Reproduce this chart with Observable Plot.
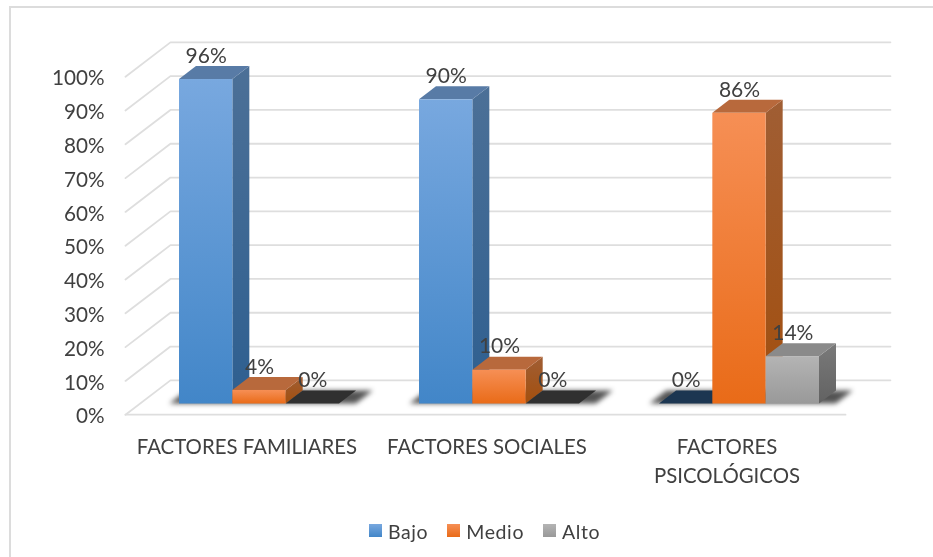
<!DOCTYPE html>
<html lang="es">
<head>
<meta charset="utf-8">
<script src="https://cdn.jsdelivr.net/npm/d3@7"></script>
<script src="https://cdn.jsdelivr.net/npm/@observablehq/plot@0.6"></script>
<style>
  html, body { margin: 0; background: #fff; width: 933px; height: 557px; overflow: hidden; }
  #frame { position: absolute; left: 9px; top: 6px; width: 940px; height: 580px;
           border-left: 2px solid #dcdcdc; border-top: 2px solid #dcdcdc; }
  #chart { position: absolute; left: 0; top: 0; }
  #chart svg { display: block; filter: blur(0.5px); }
  .base-shadow { filter: blur(2.6px); }
  #legend { position: absolute; left: 369px; top: 514px; height: 34px; display: flex; align-items: center;
            font: 19.5px Lato, sans-serif; letter-spacing: 0.6px; color: #404040; filter: blur(0.4px); }
  #legend span.sw { display: inline-block; width: 13px; height: 13px; margin-right: 6px; position: relative; top: -1px; }
  #legend span.it { display: flex; align-items: center; margin-right: 19px; }
</style>
</head>
<body>
<div id="frame"></div>
<div id="chart"></div>
<div id="legend"></div>
<script>
const categories = ["FACTORES FAMILIARES", "FACTORES SOCIALES", "FACTORES\nPSICOLÓGICOS"];
const seriesNames = ["Bajo", "Medio", "Alto"];
const bajo = [96, 90, 0];
const medio = [4, 10, 86];
const alto = [0, 0, 14];
const seriesValues = [bajo, medio, alto];
const yTicks = [0, 10, 20, 30, 40, 50, 60, 70, 80, 90, 100];

// Three-dimensional look of the chart, in data units:
// one unit of depth moves a point right (in category slots) and up (in percent).
const depthX = 17 / 240, depthY = 13 / 3.38;
const wallFront = -0.824, wallBack = 1.82;
const barWidth = 1 / 4.5, barOffset = 0.75 / 4.5;

const palette = [
  {front: ["#78a8df", "#4286c8"], side: ["#4c7097", "#2e5f90"], top: "#587ba6", flat: "#1c3651"},
  {front: ["#f68f55", "#e96b18"], side: ["#a05e34", "#a34f0e"], top: "#b8693c", flat: "#b8693c"},
  {front: ["#b4b4b4", "#999999"], side: ["#7a7a7a", "#626262"], top: "#8a8a8a", flat: "#303030"}
];

const bars = seriesValues.flatMap((vals, s) => vals.map((v, c) => ({
  s, c, v, key: `${s}-${c}`,
  x1: c + barOffset + s * barWidth,
  x2: c + barOffset + (s + 1) * barWidth
})));
const along = bars.flatMap(b => [0, 1].map(d => ({...b, d})));

const px = (x, d) => x + d * depthX;
const py = (v, d) => v + d * depthY;

const gridPts = yTicks.flatMap(t => [
  {t, x: px(0, wallFront), y: py(t, wallFront)},
  {t, x: px(0, wallBack), y: py(t, wallBack)},
  {t, x: px(3, wallBack), y: py(t, wallBack)}
]);
const floorFront = [
  {x: px(0, wallFront), y: py(0, wallFront)},
  {x: px(3, wallFront), y: py(0, wallFront)}
];
const groupShadow = categories.flatMap((_, c) => [0, 1].map(d => ({
  c, y: py(0, d),
  x1: px(c + barOffset - 0.04, d),
  x2: px(c + barOffset + 3 * barWidth + 0.07, d)
})));

const gradient = (id, [a, b]) =>
  `<linearGradient id="${id}" x1="0" y1="0" x2="0" y2="1"><stop offset="0" stop-color="${a}"/><stop offset="1" stop-color="${b}"/></linearGradient>`;

function defsMark() {
  const defs = document.createElementNS("http://www.w3.org/2000/svg", "defs");
  defs.innerHTML = palette.map((p, i) => gradient(`front${i}`, p.front) + gradient(`side${i}`, p.side)).join("");
  return defs;
}

const barMarks = seriesNames.flatMap((_, s) => {
  const rows = bars.filter(b => b.s === s && b.v > 0);
  const alongRows = along.filter(b => b.s === s);
  const alongVisible = alongRows.filter(b => b.v > 0);
  return [
    Plot.areaY(alongVisible, {
      x: d => px(d.x2, d.d), y1: d => py(0, d.d), y2: d => py(d.v, d.d), z: "key",
      fill: `url(#side${s})`, curve: "linear"
    }),
    Plot.areaX(alongRows, {
      y: d => py(d.v, d.d), x1: d => px(d.x1, d.d), x2: d => px(d.x2, d.d), z: "key",
      fill: d => d.v > 0 ? palette[s].top : palette[s].flat, curve: "linear"
    }),
    Plot.rect(rows, {
      x1: "x1", x2: "x2", y1: 0, y2: "v", fill: `url(#front${s})`, inset: 0
    })
  ];
});

const txt = {fontFamily: "Lato, sans-serif", fill: "#404040"};

const plot = Plot.plot({
  width: 933,
  height: 515,
  margin: 0,
  style: {background: "transparent", overflow: "visible"},
  color: {type: "identity"},
  x: {type: "linear", domain: [0, 3], range: [139, 859], axis: null},
  y: {type: "linear", domain: [0, 100], range: [403.5, 65.5], axis: null},
  marks: [
    defsMark,
    Plot.line(gridPts, {x: "x", y: "y", z: "t", stroke: "#dedede", strokeWidth: 1.8, curve: "linear"}),
    Plot.line(floorFront, {x: "x", y: "y", stroke: "#dedede", strokeWidth: 1.8}),
    Plot.areaX(groupShadow, {
      y: "y", x1: "x1", x2: "x2", z: "c", fill: "#1a1a1a", fillOpacity: 0.75,
      className: "base-shadow", curve: "linear"
    }),
    ...barMarks,
    Plot.text(yTicks, {
      x: px(0, wallFront), y: t => py(t, wallFront), text: t => `${t}%`,
      textAnchor: "end", dx: -21, dy: 2, fontSize: 20.7, ...txt
    }),
    Plot.text(categories, {
      x: (_, i) => px(i + 0.5, wallFront), y: py(0, wallFront), text: d => d,
      lineAnchor: "top", dx: 1.5, dy: 19, lineHeight: 1.41, fontSize: 20.4, ...txt
    }),
    Plot.text(bars, {
      x: b => px((b.x1 + b.x2) / 2, 0), y: b => py(b.v, 1), text: b => `${b.v}%`,
      dy: -10.5, fontSize: 21, ...txt
    })
  ]
});
document.getElementById("chart").append(plot);

const legend = document.getElementById("legend");
seriesNames.forEach((name, i) => {
  const it = document.createElement("span");
  it.className = "it";
  const sw = document.createElement("span");
  sw.className = "sw";
  sw.style.background = `linear-gradient(${palette[i].front[0]}, ${palette[i].front[1]})`;
  it.append(sw, document.createTextNode(name));
  legend.append(it);
});
</script>
</body>
</html>
